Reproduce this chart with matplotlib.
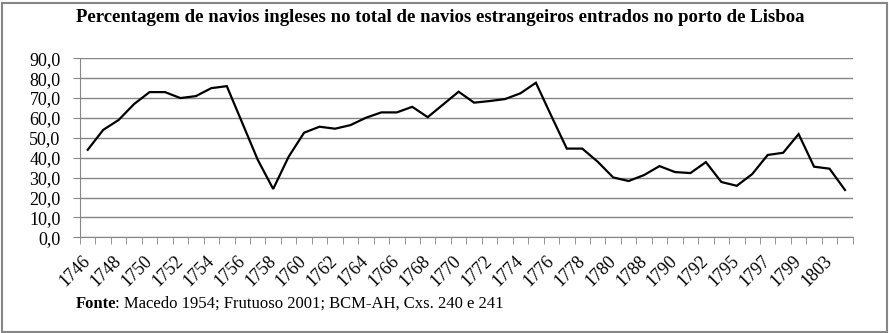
import matplotlib
matplotlib.use("Agg")
import matplotlib.pyplot as plt
from matplotlib.patches import Rectangle
from matplotlib.ticker import FuncFormatter

# years (categories); only every other one gets a label on the axis
years = [str(y) for y in range(1746, 1781)] + [
    "1781", "1788", "1789", "1790", "1791", "1792", "1793", "1795",
    "1796", "1797", "1798", "1799", "1800", "1803", "1804"]

# % of English ships in all foreign ships entering Lisbon
pct = [44, 54, 59, 67, 73, 73, 70, 71, 75, 76,
       57.5, 39, 24.3, 40.5, 52.6, 55.6, 54.6, 56.4, 60.1, 62.8,
       62.8, 65.6, 60.4, 66.8, 73.2, 67.7, 68.5, 69.5, 72.4, 77.7,
       61, 44.6, 44.6, 38, 30.1, 28.3, 31.3, 35.8, 32.8, 32.3,
       37.8, 27.8, 25.9, 31.8, 41.4, 42.5, 51.9, 35.5, 34.5, 23.8]

title = "Percentagem de navios ingleses no total de navios estrangeiros entrados no porto de Lisboa"
source = ": Macedo 1954; Frutuoso 2001; BCM-AH, Cxs. 240 e 241"

plt.rcParams["font.family"] = ["Liberation Serif", "DejaVu Serif"]

fig = plt.figure(figsize=(8.89, 3.33), dpi=100)
ax = fig.add_axes([80 / 889, 1 - 237.3 / 333, (852.7 - 80) / 889, (237.3 - 58.3) / 333])

x = list(range(len(pct)))
ax.plot(x, pct, color="black", linewidth=1.6, solid_joinstyle="miter")

ax.set_xlim(-0.5, len(pct) - 0.5)
ax.set_ylim(0, 90)
ax.set_yticks(range(0, 91, 10))
ax.yaxis.set_major_formatter(FuncFormatter(lambda v, p: f"{v:.1f}".replace(".", ",")))
ax.grid(axis="y", color="#868686", linewidth=1)
ax.set_axisbelow(True)

# category boundaries as tick marks, labels on every other category
ax.set_xticks([i - 0.5 for i in range(len(pct) + 1)], minor=True)
ax.set_xticks(x[::2])
ax.set_xticklabels(years[::2], rotation=45, ha="right", va="center",
                   rotation_mode="anchor", fontsize=13)
ax.tick_params(axis="x", which="major", length=0, pad=15)
ax.tick_params(axis="x", which="minor", length=5, color="#868686", direction="out")
ax.tick_params(axis="y", length=5, color="#868686", labelsize=13, pad=9)

for s in ["top", "right"]:
    ax.spines[s].set_visible(False)
for s in ["left", "bottom"]:
    ax.spines[s].set_color("#868686")

fig.text(440 / 889, 1 - 17 / 333, title, ha="center", va="center",
         fontsize=13.5, fontweight="bold")

# "Fonte" in bold, the rest in normal weight right after it
fx, fy = 76 / 889, 1 - 308 / 333
bold = fig.text(fx, fy, "Fonte", ha="left", va="baseline", fontsize=12, fontweight="bold")
fig.canvas.draw()
bb = bold.get_window_extent()
fig.text((bb.x1 - 1.5) / fig.bbox.width, fy, source, ha="left", va="baseline", fontsize=12)

fig.patches.append(Rectangle((1.5 / 889, 1.5 / 333), 885 / 889, 329 / 333, transform=fig.transFigure,
                             fill=False, edgecolor="#868686", linewidth=1.5))

fig.savefig("out.png", dpi=100)
